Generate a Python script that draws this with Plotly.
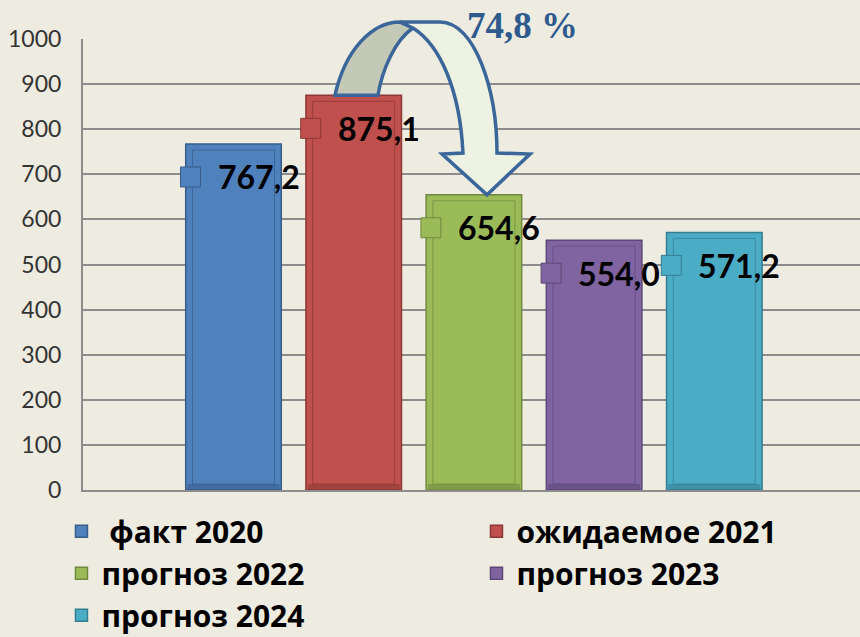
import plotly.graph_objects as go

# ---------------- data ----------------
series_names = ["\u00a0факт 2020", "ожидаемое 2021", "прогноз 2022", "прогноз 2023", "прогноз 2024"]
series_values = [767.2, 875.1, 654.6, 554.0, 571.2]
y_tick_values = [0, 100, 200, 300, 400, 500, 600, 700, 800, 900, 1000]

# ---------------- styles ----------------
fill_colors = ["#4F81BD", "#C0504D", "#9BBB59", "#8064A2", "#4BACC6"]
edge_colors = ["#385D8A", "#8C3836", "#71893F", "#5C4776", "#357D91"]
BG = "#EEECE1"
GRID = "#8C8C8C"
ARROW_LINE = "#3B6699"
ARROW_BACK = "#C4C8B6"
ARROW_FRONT = "#EEF2E2"
PCT_COLOR = "#2E5A8E"

X_RANGE = [-1.252, 5.212]
Y_RANGE = [0, 1000]
BAR_W = 0.795
PLOT_H = 451  # px height of the plotting area
PX_PER_UNIT = PLOT_H / (Y_RANGE[1] - Y_RANGE[0])


def fmt(v):
    return f"{v:.1f}".replace(".", ",")


pct_label = fmt(series_values[2] / series_values[1] * 100) + " %"

fig = go.Figure()
for i, (name, val, fc, ec) in enumerate(zip(series_names, series_values, fill_colors, edge_colors)):
    fig.add_trace(go.Bar(
        x=[i], y=[val], name=name, width=BAR_W,
        marker=dict(color=fc, line=dict(color=ec, width=1.5)),
        hoverinfo="name+y",
    ))

shapes = []
annotations = []
inset = 6 / PX_PER_UNIT
for i, (val, fc, ec) in enumerate(zip(series_values, fill_colors, edge_colors)):
    # bevel: darker bottom band + inner frame
    shapes.append(dict(type="rect", xref="x", yref="y", xsizemode="pixel", xanchor=i,
                       x0=-46, x1=46, y0=0, y1=inset, fillcolor=ec, opacity=0.6,
                       line=dict(width=0), layer="above"))
    shapes.append(dict(type="rect", xref="x", yref="y", xsizemode="pixel", xanchor=i,
                       x0=-41, x1=41, y0=inset, y1=val - inset,
                       line=dict(color=ec, width=1), opacity=0.7, layer="above"))
    # legend-key marker of the data label
    shapes.append(dict(type="rect", xref="x", yref="y", xsizemode="pixel", ysizemode="pixel",
                       xanchor=i, yanchor=val, x0=-53, x1=-33, y0=-43, y1=-23,
                       fillcolor=fc, line=dict(color=ec, width=1), layer="above"))
    annotations.append(dict(x=i, y=val, xref="x", yref="y", text=fmt(val), showarrow=False,
                            xanchor="left", yanchor="middle", xshift=-18, yshift=-33,
                            font=dict(family="Lato", size=32, color="black", weight="bold")))


def to_paper(x, y):
    return ((x - X_RANGE[0]) / (X_RANGE[1] - X_RANGE[0]),
            (y - Y_RANGE[0]) / (Y_RANGE[1] - Y_RANGE[0]))


def path(cmds):
    out = []
    for c in cmds:
        if c[0] == "Z":
            out.append("Z")
            continue
        pts = []
        for (x, y) in c[1:]:
            px, py = to_paper(x, y)
            pts.append(f"{px:.5f},{py:.5f}")
        out.append(c[0] + " ".join(pts))
    return " ".join(out)


v_from, v_to = series_values[1], series_values[2]
back_band = path([
    ("M", (0.844, v_from)),
    ("C", (0.928, 975.6), (1.152, 1037.7), (1.385, 1037.7)),
    ("L", (1.493, 1024.4)),
    ("C", (1.344, 997.8), (1.235, 931.3), (1.202, v_from)),
    ("Z",),
])
front_band = path([
    ("M", (1.385, 1037.7)),
    ("L", (1.718, 1037.7)),
    ("C", (2.009, 1037.7), (2.192, 886.9), (2.192, 747.2)),
    ("L", (2.467, 745.0)),
    ("L", (2.109, v_to)),
    ("L", (1.735, 745.0)),
    ("L", (1.909, 747.2)),
    ("C", (1.884, 886.9), (1.718, 986.7), (1.493, 1024.4)),
    ("Z",),
])
shapes.append(dict(type="path", xref="paper", yref="paper", path=back_band,
                   fillcolor=ARROW_BACK, line=dict(color=ARROW_LINE, width=3.5), layer="above"))
shapes.append(dict(type="path", xref="paper", yref="paper", path=front_band,
                   fillcolor=ARROW_FRONT, line=dict(color=ARROW_LINE, width=3.5), layer="above"))

px_, py_ = to_paper(2.408, 1031)
annotations.append(dict(x=px_, y=py_, xref="paper", yref="paper", text=pct_label, showarrow=False,
                        xanchor="center", yanchor="middle",
                        font=dict(family="Liberation Serif", size=37, color=PCT_COLOR, weight="bold")))

fig.update_layout(
    width=860, height=637,
    margin=dict(l=83, r=0, t=39, b=147, autoexpand=False),
    paper_bgcolor=BG, plot_bgcolor=BG,
    barmode="overlay",
    shapes=shapes, annotations=annotations,
    showlegend=True,
    legend=dict(orientation="h", x=-0.0277, xanchor="left", y=-0.034, yanchor="top",
                entrywidth=370, entrywidthmode="pixels", bgcolor="rgba(0,0,0,0)",
                font=dict(family="Open Sans", size=30, color="black", weight="bold"),
                traceorder="normal"),
    xaxis=dict(range=X_RANGE, showticklabels=False, showgrid=False, zeroline=False,
               showline=True, linecolor=GRID, linewidth=2, ticks=""),
    yaxis=dict(range=Y_RANGE, tickvals=y_tick_values, showgrid=True, gridcolor=GRID, gridwidth=2,
               zeroline=False, showline=True, linecolor=GRID, linewidth=2, ticks="",
               ticklabelstandoff=15,
               tickfont=dict(family="Lato", size=23, color="#333333")),
)

fig.write_html(
    "out.html",
    config={"displayModeBar": False},
    post_script="document.body.style.margin='0';document.body.style.background='" + BG + "';",
)
